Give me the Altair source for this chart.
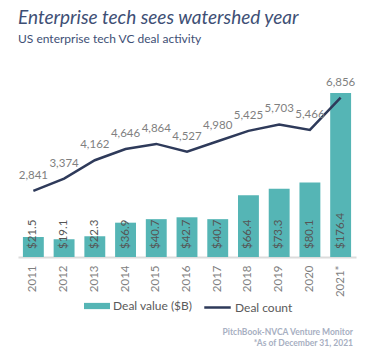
import altair as alt
import pandas as pd

years = ["2011", "2012", "2013", "2014", "2015", "2016", "2017", "2018", "2019", "2020", "2021*"]
deal_value = [21.5, 19.1, 22.3, 36.9, 40.7, 42.7, 40.7, 66.4, 73.3, 80.1, 176.4]
deal_count = [2841, 3374, 4162, 4646, 4864, 4527, 4980, 5425, 5703, 5466, 6856]
footnotes = ["PitchBook-NVCA Venture Monitor", "*As of  December 31, 2021"]

df = pd.DataFrame({
    "year": years,
    "value": deal_value,
    "count": deal_count,
})
df["value_label"] = ["$" + f"{v:.1f}" for v in deal_value]
df["count_label"] = [f"{c:,}" for c in deal_count]
df["s1"] = "Deal value ($B)"
df["s2"] = "Deal count"

TEAL = "#55b5b5"
NAVY = "#2e3a5a"
GRAY = "#7f7f7f"
FONT = "Lato"

x_enc = alt.X("year:N", sort=years, title=None,
              scale=alt.Scale(paddingInner=0.32, paddingOuter=0.16),
              axis=alt.Axis(labelAngle=-90, labelAlign="right", labelBaseline="middle",
                            labelPadding=8, ticks=False, domainColor="#dcdcdc",
                            domainWidth=2, labelColor=GRAY, labelFontSize=11.5,
                            labelFont=FONT, grid=False))

base = alt.Chart(df)

bars = base.mark_bar().encode(
    x=x_enc,
    y=alt.Y("value:Q", scale=alt.Scale(domain=[0, 200]), axis=None),
    color=alt.Color("s1:N", scale=alt.Scale(domain=["Deal value ($B)"], range=[TEAL]),
                    legend=alt.Legend(title=None, orient="none", legendX=66, legendY=222,
                                      symbolType="M-1,-0.24H1V0.24H-1Z", symbolSize=676,
                                      labelFontSize=12, labelColor="#5a5a5a", labelFont=FONT,
                                      symbolOpacity=1, symbolStrokeWidth=0)),
)

bar_text = base.mark_text(angle=270, align="left", baseline="middle", dx=8,
                          fontSize=11.5, font=FONT, color="#555555").encode(
    x=alt.X("year:N", sort=years),
    y=alt.Y("zero:Q", scale=alt.Scale(domain=[0, 200]), axis=None),
    text="value_label:N",
).transform_calculate(zero="0")

line = base.mark_line(strokeWidth=2.5).encode(
    x=alt.X("year:N", sort=years),
    y=alt.Y("count:Q", scale=alt.Scale(domain=[0, 8000]), axis=None),
    stroke=alt.Stroke("s2:N", scale=alt.Scale(domain=["Deal count"], range=[NAVY]),
                      legend=alt.Legend(title=None, orient="none", legendX=185, legendY=222,
                                        symbolType="stroke", symbolSize=700,
                                        symbolStrokeWidth=2.5,
                                        labelFontSize=12, labelColor="#5a5a5a", labelFont=FONT)),
)

line_text = base.mark_text(baseline="alphabetic", align="center", dy=-12,
                           fontSize=11.5, font=FONT, color=GRAY).encode(
    x=alt.X("year:N", sort=years),
    y=alt.Y("count:Q", scale=alt.Scale(domain=[0, 8000]), axis=None),
    text="count_label:N",
)

foot_df = pd.DataFrame({"t": footnotes, "i": [0, 1]})
foot = alt.Chart(foot_df).mark_text(align="right", baseline="alphabetic", fontSize=8.5,
                                     font=FONT, fontWeight="bold", color="#a7afc2").encode(
    x=alt.value(335),
    y=alt.Y("i:Q", scale=alt.Scale(domain=[0, 1], range=[264, 275]), axis=None),
    text="t:N",
)

chart = alt.layer(bars, bar_text, line, line_text, foot).resolve_scale(
    y="independent"
).properties(
    width=338,
    height=186,
    autosize=alt.AutoSizeParams(type="none"),
    padding={"left": 18, "top": 71, "right": 34, "bottom": 99},
    title=alt.Title("Enterprise tech sees watershed year",
                    subtitle="US enterprise tech VC deal activity",
                    anchor="start", frame="group", offset=26,
                    font=FONT, fontSize=19, fontStyle="italic", fontWeight="normal",
                    color="#3e4f75", subtitleFont=FONT, subtitleFontSize=12,
                    subtitleColor="#3e4f75", subtitlePadding=6),
).configure_view(stroke=None).configure_legend(padding=0, labelOffset=3, columnPadding=0)

chart.save("out.html", embed_options={"renderer": "svg", "actions": False})
